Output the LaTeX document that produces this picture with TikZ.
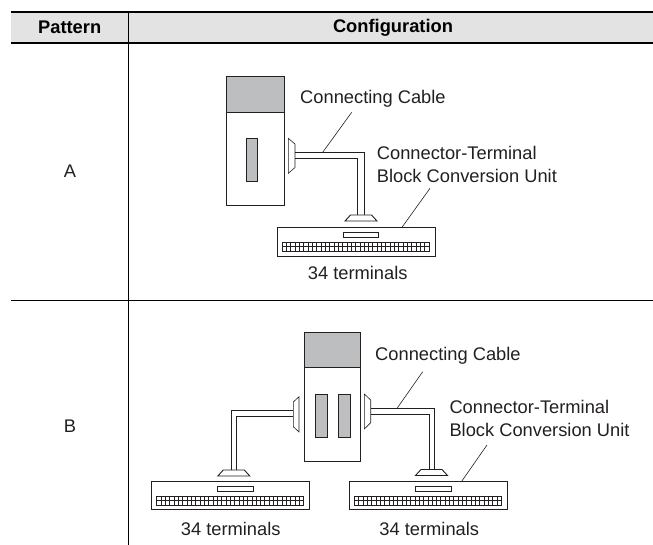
\documentclass[tikz,border=0pt]{standalone}
\usepackage{fontspec}
\setmainfont{Liberation Sans}
\usetikzlibrary{positioning}
\definecolor{inkline}{HTML}{231F20}
\definecolor{headgray}{HTML}{E3E3E3}
\definecolor{plcgray}{HTML}{BCBEC0}
\tikzset{
    label text/.style={font=\fontsize{18.3}{22.5}\selectfont, text=inkline, inner sep=0pt},
    head text/.style={label text, font=\fontsize{18.3}{22.5}\selectfont\bfseries, text=black},
    left text/.style={label text, anchor=west, align=left},
    part/.style={draw=inkline, line width=0.9pt},
    thin part/.style={draw=inkline, line width=0.6pt},
    rule/.style={draw=black, line width=2pt},
    pics/terminal block/.style={code={
        \draw[part, line width=1pt] (0,0) rectangle (158,28.5);
        \draw[thin part] (66,5) rectangle (101.5,10);
        \draw[thin part] (5,14.5) rectangle (152,23.5);
        \draw[thin part] (5,19) -- (152,19);
        \foreach \i in {1,...,33} {
            \draw[thin part] ({5+\i*147/34},14.5) -- ({5+\i*147/34},23.5);
        }
    }},
    pics/cable foot/.style={code={
        \draw[part, fill=white] (-10.5,0) -- (10.5,0) -- (16,6) -- (-16,6) -- cycle;
    }}
}

\begin{document}
\begin{tikzpicture}[x=1pt, y=-1pt]
            \useasboundingbox (0,0) rectangle (653,545);

            % table
            \fill[headgray] (11,12) rectangle (653,43);
            \draw[rule] (11,12) -- (653,12);
            \draw[rule] (11,43) -- (653,43);
            \draw[draw=black, line width=1pt] (11,300.3) -- (653,300.3);
            \draw[draw=black, line width=1.2pt] (128.3,12) -- (128.3,545);
            \node[head text] (pattern head) at (69.7,27.6) {Pattern};
            \node[head text] (config head) at (393,27.6) {Configuration};
            \node[label text] (row a) at (70,171) {A};
            \node[label text] (row b) at (70,426) {B};

            % pattern A
            \draw[part, fill=plcgray] (226.7,76.7) rectangle (284,112.3);
            \draw[part] (226.7,112.3) rectangle (284,205.7);
            \draw[thin part, fill=plcgray] (246,138.3) rectangle (257.7,181);
            \draw[thin part] (288.3,138.3) -- (295,144) -- (295,167.5) -- (288.3,173.3) -- cycle;
            \draw[thin part] (295,152.3) -- (364.3,152.3) -- (364.3,215);
            \draw[thin part] (295,158) -- (357.7,158) -- (357.7,215);
            \pic at (361,215) {cable foot};
            \pic at (277,227.7) {terminal block};
            \node[left text] (cable a) at (300,99) {Connecting Cable};
            \node[left text] (unit a) at (376.7,164.6) {Connector-Terminal\\Block Conversion Unit};
            \node[label text] (count a) at (357.7,273) {34 terminals};
            \coordinate (cable a end) at (351.7,112.3);
            \coordinate (cable a hit) at (322.7,152.3);
            \coordinate (unit a end) at (430,188.3);
            \coordinate (unit a hit) at (401.7,227.7);
            \draw[thin part] (cable a end) -- (cable a hit);
            \draw[thin part] (unit a end) -- (unit a hit);

            % pattern B
            \draw[part, fill=plcgray] (304.7,332) rectangle (360.3,367.7);
            \draw[part] (304.7,367.7) rectangle (360.3,461.3);
            \draw[thin part, fill=plcgray] (315.3,394.7) rectangle (327,437.3);
            \draw[thin part, fill=plcgray] (338.7,394.7) rectangle (350.3,437.3);

            \draw[thin part] (299,396.7) -- (293.3,402) -- (293.3,426.7) -- (299,432) -- cycle;
            \draw[thin part] (293.3,410.3) -- (231,410.3) -- (231,470);
            \draw[thin part] (293.3,416.3) -- (236.7,416.3) -- (236.7,470);
            \pic at (233.8,470) {cable foot};
            \pic at (151.7,481.3) {terminal block};
            \node[label text] (count b) at (230.7,529) {34 terminals};

            \draw[thin part] (364.3,394) -- (370.7,400) -- (370.7,422.7) -- (364.3,429) -- cycle;
            \draw[thin part] (370.7,408) -- (434.7,408) -- (434.7,469);
            \draw[thin part] (370.7,414) -- (429,414) -- (429,469);
            \pic at (431.5,469.5) {cable foot};
            \pic at (349.3,481.3) {terminal block};
            \node[label text] (count c) at (429.3,529) {34 terminals};
            \node[left text] (cable b) at (375,355.7) {Connecting Cable};
            \node[left text] (unit b) at (449.3,418.4) {Connector-Terminal\\Block Conversion Unit};
            \coordinate (cable b end) at (422.7,371.7);
            \coordinate (cable b hit) at (397.3,408);
            \coordinate (unit b end) at (487,445);
            \coordinate (unit b hit) at (461.7,481.3);
            \draw[thin part] (cable b end) -- (cable b hit);
            \draw[thin part] (unit b end) -- (unit b hit);
        \end{tikzpicture}
\end{document}
